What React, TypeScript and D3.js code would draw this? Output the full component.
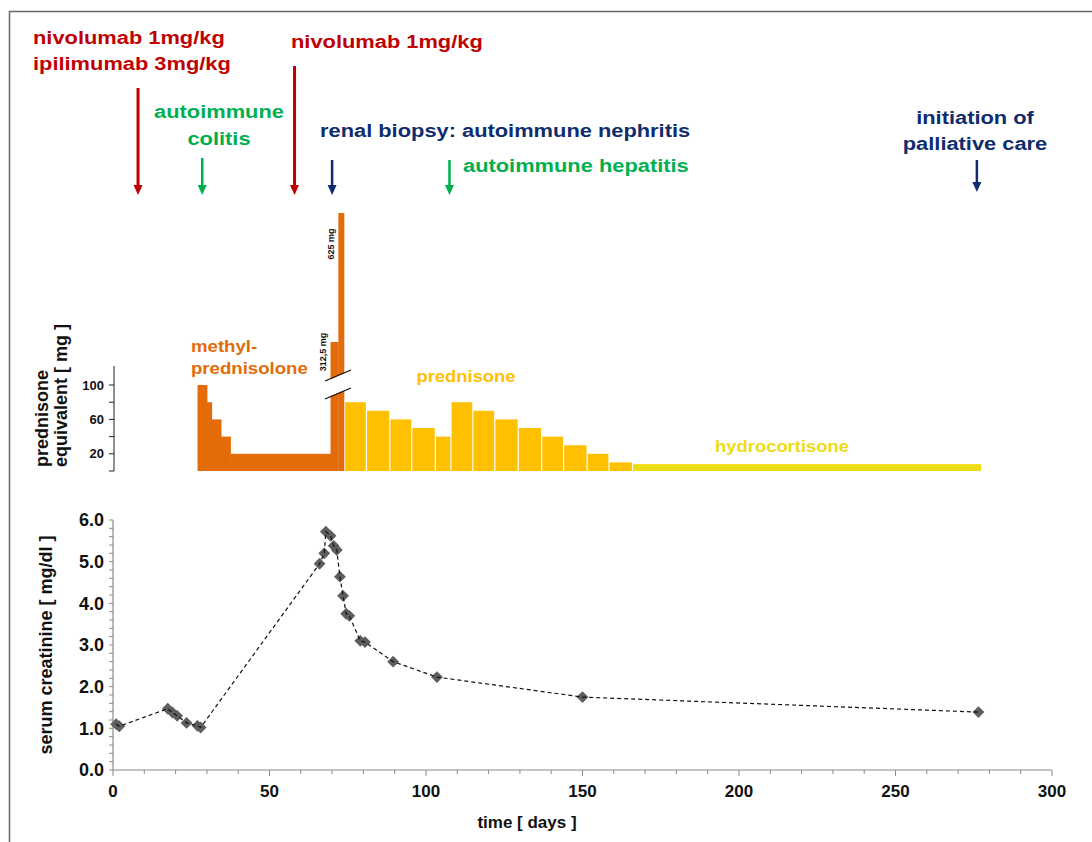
import React from 'react';
import * as d3 from 'd3';

// steroid dosing (days = bar edges, mg = prednisone equivalent)
const methylEdges = [27, 30, 31.5, 34.5, 37.5, 69.5];
const methylDoses = [100, 80, 60, 40, 20];
const pulseEdges = [69.5, 72, 73.8];
const pulseDoses = [312.5, 625];
const pulseLabels = ['312,5 mg', '625 mg'];
const prednisoneEdges = [74, 81, 88.5, 95.5, 103, 108, 115, 122, 129.5, 137, 144, 151.5, 158.5, 166];
const prednisoneDoses = [80, 70, 60, 50, 40, 80, 70, 60, 50, 40, 30, 20, 10];
const hydroEdges = [166, 277.3];
const hydroDoses = [8];

// serum creatinine [mg/dl]
const creatDays = [1, 2, 17.5, 19, 20.5, 23.5, 27, 28, 66, 67.5, 68, 69.5, 70.5, 71.5, 72.5, 73.5, 74.5, 75.5, 79, 80.5, 89.5, 103.5, 150, 276.5];
const creatValues = [1.1, 1.05, 1.47, 1.38, 1.3, 1.13, 1.06, 1.02, 4.95, 5.2, 5.72, 5.62, 5.38, 5.28, 4.64, 4.18, 3.75, 3.7, 3.1, 3.07, 2.6, 2.23, 1.75, 1.39];

const xTicks = [0, 50, 100, 150, 200, 250, 300];
const creatTicks = [0, 1, 2, 3, 4, 5, 6];
const doseTicks = [20, 60, 100];

// events (arrows)
const eventDays = [8, 28.5, 58, 70, 107.5, 276];
const eventColors = ['#C00000', '#00B050', '#C00000', '#0F2D6E', '#00B050', '#0F2D6E'];
const eventTops = [88, 158, 66, 160, 160, 160];

const RED = '#C00000';
const GREEN = '#00B050';
const NAVY = '#0F2D6E';
const ORANGE = '#E36C09';
const GOLD = '#FFC000';
const HYDRO = '#EEDC12';
const FONT = '"Liberation Sans", Arial, sans-serif';

const x = d3.scaleLinear().domain([0, 300]).range([113, 1052]);
const yCreat = d3.scaleLinear().domain([0, 6]).range([770, 520]);
const yDose = d3.scaleLinear().domain([0, 100]).range([471, 385]);
const yPulse = d3.scaleLinear().domain([0, 625]).range([471, 213]);

const SText = ({ x, y, anchor = 'start', size, color, children }: any) => (
  <text
    transform={`translate(${x},${y}) scale(1.15,1)`}
    textAnchor={anchor}
    fontSize={size}
    fontWeight="bold"
    fill={color}
  >
    {children}
  </text>
);

const Arrow = ({ cx, top, tip, color, w }: any) => (
  <g>
    <line x1={cx} x2={cx} y1={top} y2={tip - 8} stroke={color} strokeWidth={w} />
    <path d={`M${cx - 4.5},${tip - 10} L${cx + 4.5},${tip - 10} L${cx},${tip} Z`} fill={color} />
  </g>
);

export default function App() {
  const diamond = d3.symbol().type(d3.symbolSquare).size(70)();
  const line = d3
    .line<number>()
    .x((d, i) => x(creatDays[i]))
    .y((d) => yCreat(d));

  const minorX = d3.range(0, 301, 10);
  const minorY = d3.range(0, 6.01, 0.2);
  const minorDose = d3.range(0, 101, 20);

  return (
    <svg
      width={1092}
      height={842}
      style={{ position: 'absolute', left: 0, top: 0, background: '#fff' }}
      fontFamily={FONT}
    >
      <path d="M9.5,842 L9.5,11.5 L1092,11.5" fill="none" stroke="#666" strokeWidth={1.5} />

      {/* annotations */}
      <SText x={33} y={44} size={19} color={RED}>nivolumab 1mg/kg</SText>
      <SText x={33} y={70} size={19} color={RED}>ipilimumab 3mg/kg</SText>
      <SText x={291} y={48} size={19} color={RED}>nivolumab 1mg/kg</SText>
      <SText x={219} y={118} anchor="middle" size={19} color={GREEN}>autoimmune</SText>
      <SText x={219} y={145} anchor="middle" size={19} color={GREEN}>colitis</SText>
      <SText x={320} y={137} size={19} color={NAVY}>renal biopsy: autoimmune nephritis</SText>
      <SText x={463} y={172} size={19} color={GREEN}>autoimmune hepatitis</SText>
      <SText x={975} y={124} anchor="middle" size={19} color={NAVY}>initiation of</SText>
      <SText x={975} y={150} anchor="middle" size={19} color={NAVY}>palliative care</SText>

      {eventDays.map((d, i) => (
        <Arrow
          key={i}
          cx={x(d)}
          top={eventTops[i]}
          tip={i === 5 ? 192 : 195}
          color={eventColors[i]}
          w={eventColors[i] === RED ? 3 : 2.5}
        />
      ))}

      {/* steroid bars */}
      {methylDoses.map((v, i) => (
        <rect
          key={'m' + i}
          x={x(methylEdges[i])}
          width={x(methylEdges[i + 1]) - x(methylEdges[i]) + 0.5}
          y={yDose(v)}
          height={yDose(0) - yDose(v)}
          fill={ORANGE}
        />
      ))}
      {pulseDoses.map((v, i) => (
        <rect
          key={'p' + i}
          x={x(pulseEdges[i])}
          width={x(pulseEdges[i + 1]) - x(pulseEdges[i]) + 0.3}
          y={yPulse(v)}
          height={yPulse(0) - yPulse(v)}
          fill={ORANGE}
        />
      ))}
      {/* axis break */}
      <path d="M324,382 L352,370 L352,387 L324,399 Z" fill="#fff" />
      <line x1={325} y1={381} x2={351} y2={370} stroke="#111" strokeWidth={1.3} />
      <line x1={325} y1={399} x2={351} y2={388} stroke="#111" strokeWidth={1.3} />
      {pulseDoses.map((v, i) => (
        <text
          key={'pl' + i}
          transform={`translate(${x(pulseEdges[i]) - 4.5},${yPulse(v) + (i === 0 ? 10 : 31)}) rotate(-90)`}
          textAnchor="middle"
          fontSize={9}
          fontWeight="bold"
          fill="#111"
        >
          {pulseLabels[i]}
        </text>
      ))}
      {prednisoneDoses.map((v, i) => (
        <rect
          key={'pr' + i}
          x={x(prednisoneEdges[i]) + 0.5}
          width={x(prednisoneEdges[i + 1]) - x(prednisoneEdges[i]) - 1.2}
          y={yDose(v)}
          height={yDose(0) - yDose(v)}
          fill={GOLD}
        />
      ))}
      {hydroDoses.map((v, i) => (
        <rect
          key={'h' + i}
          x={x(hydroEdges[i]) + 0.5}
          width={x(hydroEdges[i + 1]) - x(hydroEdges[i]) - 0.5}
          y={yDose(v)}
          height={yDose(0) - yDose(v)}
          fill={HYDRO}
        />
      ))}

      <SText x={191} y={352} size={16.2} color={ORANGE}>methyl-</SText>
      <SText x={191} y={374} size={16.2} color={ORANGE}>prednisolone</SText>
      <SText x={466} y={382} anchor="middle" size={16} color={GOLD}>prednisone</SText>
      <SText x={782} y={452} anchor="middle" size={16} color={HYDRO}>hydrocortisone</SText>

      {/* dose axis */}
      <line x1={114} x2={114} y1={yDose(0)} y2={yDose(122)} stroke="#222" strokeWidth={1} />
      {minorDose.map((t) => (
        <line key={'dt' + t} x1={109} x2={114} y1={yDose(t)} y2={yDose(t)} stroke="#222" strokeWidth={1} />
      ))}
      {doseTicks.map((t) => (
        <text key={'dl' + t} x={104} y={yDose(t)} dy="0.36em" textAnchor="end" fontSize={13} fontWeight="bold" fill="#111">
          {t}
        </text>
      ))}
      <text transform="translate(48,467) rotate(-90)" fontSize={18} fontWeight="bold" fill="#111">prednisone</text>
      <text transform="translate(67,467) rotate(-90)" fontSize={18} fontWeight="bold" fill="#111">equivalent [ mg ]</text>

      {/* creatinine panel axes */}
      <line x1={x(0)} x2={x(0)} y1={yCreat(0)} y2={yCreat(6)} stroke="#8a8a8a" strokeWidth={1.2} />
      {minorY.map((t, i) => (
        <line key={'yt' + i} x1={x(0) - 4} x2={x(0)} y1={yCreat(t)} y2={yCreat(t)} stroke="#8a8a8a" strokeWidth={1} />
      ))}
      {creatTicks.map((t) => (
        <text key={'yl' + t} x={104} y={yCreat(t)} dy="0.36em" textAnchor="end" fontSize={18} fontWeight="bold" fill="#111">
          {d3.format('.1f')(t)}
        </text>
      ))}
      <line x1={x(0)} x2={x(300)} y1={yCreat(0)} y2={yCreat(0)} stroke="#8a8a8a" strokeWidth={1.2} />
      {minorX.map((t) => (
        <line
          key={'xt' + t}
          x1={x(t)}
          x2={x(t)}
          y1={yCreat(0)}
          y2={yCreat(0) + (t % 50 === 0 ? 6 : 4)}
          stroke="#8a8a8a"
          strokeWidth={1}
        />
      ))}
      {xTicks.map((t) => (
        <text key={'xl' + t} x={x(t)} y={797} textAnchor="middle" fontSize={17} fontWeight="bold" fill="#111">
          {t}
        </text>
      ))}
      <text x={527} y={828} textAnchor="middle" fontSize={17} fontWeight="bold" fill="#111">time [ days ]</text>
      <text transform="translate(52,645) rotate(-90)" textAnchor="middle" fontSize={18} fontWeight="bold" fill="#111">
        serum creatinine [ mg/dl ]
      </text>

      {/* creatinine series */}
      {creatValues.map((v, i) => (
        <path
          key={'c' + i}
          d={diamond || ''}
          transform={`translate(${x(creatDays[i])},${yCreat(v)}) rotate(45)`}
          fill="#5e5e5e"
        />
      ))}
      <path d={line(creatValues) || ''} fill="none" stroke="#111" strokeWidth={1.2} strokeDasharray="4,3" />
    </svg>
  );
}
